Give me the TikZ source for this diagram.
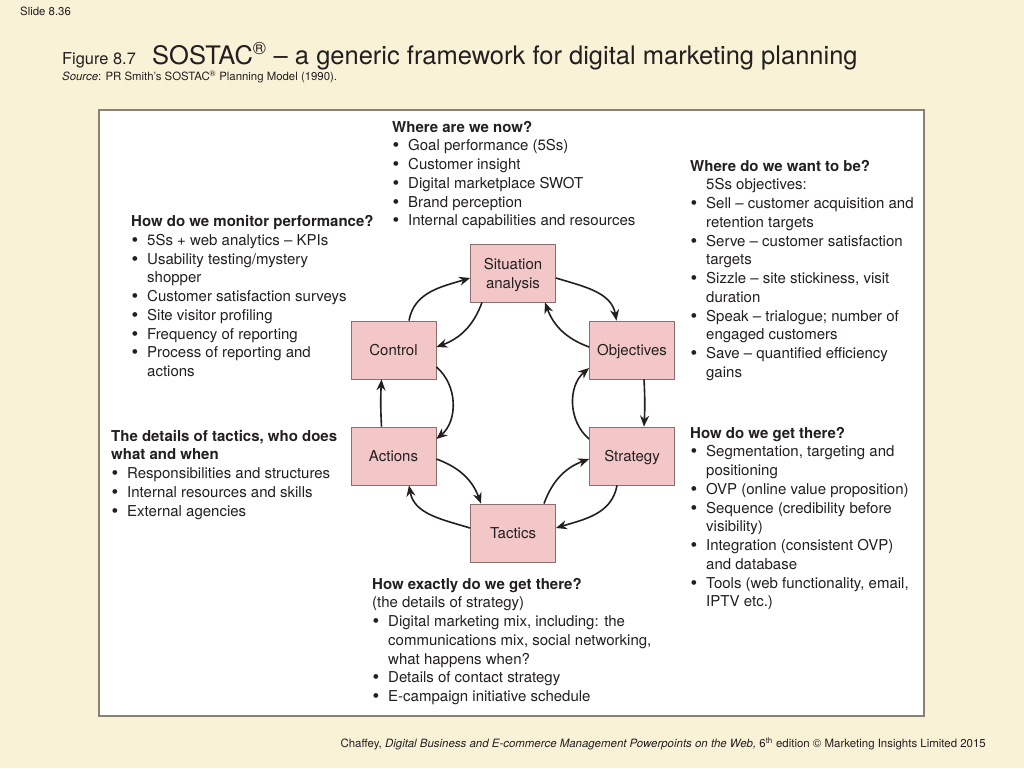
\documentclass[tikz,border=0pt]{standalone}
\usepackage{fontspec}
\setmainfont{TeX Gyre Heros}
\usetikzlibrary{arrows.meta}
\definecolor{bg}{RGB}{249,242,215}
\definecolor{pinkfill}{RGB}{243,199,200}
\definecolor{boxline}{RGB}{140,110,110}
\definecolor{panelline}{RGB}{138,131,113}
\definecolor{ink}{RGB}{35,31,32}
\newcommand\bu{\makebox[16pt][l]{\hspace{0.5pt}\raisebox{-1pt}{\fontsize{19}{18}\selectfont\textbullet}}}
\newcommand\ct{\hspace*{16pt}}
\tikzset{
  txt/.style={inner sep=0pt, anchor=base west, text=ink, font=\fontsize{15}{18.75}\selectfont},
  stepbox/.style={draw=boxline, fill=pinkfill, minimum width=85pt, minimum height=58pt, inner sep=0pt,
    align=center, font=\fontsize{15}{19}\selectfont, text=ink, line width=0.8pt, text depth=0pt},
  arr/.style={-{Stealth[length=11pt,width=9pt]}, line width=1.6pt, draw=ink},
  small/.style={inner sep=0pt, text=ink}
}
\begin{document}
\begin{tikzpicture}[x=1pt,y=-1pt]
\fill[bg] (0,0) rectangle (1024,768);
\draw[panelline, line width=1.2pt, fill=white] (99,110) rectangle (924,716);

% header
\node[small, anchor=base west, font=\fontsize{11.4}{13}\selectfont] (slide) at (20,16) {Slide 8.36};
\node[small, anchor=base west, font=\fontsize{16.4}{18}\selectfont] (fig) at (62,64) {Figure 8.7};
\node[small, anchor=base west, font=\fontsize{25.5}{28}\selectfont] (title) at (152,64) {SOSTAC\textsuperscript{®} – a generic framework for digital marketing planning};
\node[small, anchor=base west, font=\fontsize{11.4}{13}\selectfont] (src) at (62,80.5) {\textit{Source}: PR Smith's SOSTAC\textsuperscript{®} Planning Model (1990).};
\node[small, anchor=base east, font=\fontsize{11.45}{13}\selectfont] (foot) at (986,747) {Chaffey, \textit{Digital Business and E-commerce Management Powerpoints on the Web,} 6\textsuperscript{th} edition © Marketing Insights Limited 2015};

% boxes
\node[stepbox] (sit) at (513,273) {Situation\\analysis};
\node[stepbox] (ctrl) at (393.5,350) {Control};
\node[stepbox] (obj) at (632,350) {Objectives};
\node[stepbox] (act) at (393.5,456) {Actions};
\node[stepbox] (str) at (632,456) {Strategy};
\node[stepbox] (tac) at (513,533) {Tactics};

% connectors
\draw[arr] ([xshift=15.5pt]ctrl.north) to[out=80,in=197] ([yshift=-5pt]sit.west);
\draw[arr] ([xshift=-31pt]sit.south) to[out=-110,in=20] ([yshift=3pt]ctrl.east);
\draw[arr] ([yshift=-5pt]sit.east) to[out=-17,in=100] ([xshift=-15.5pt]obj.north);
\draw[arr] ([yshift=3pt]obj.west) to[out=160,in=-70] ([xshift=32pt]sit.south);
\draw[arr] ([xshift=12pt]obj.south) to[bend left=3] ([xshift=12pt]str.north);
\draw[arr] ([yshift=17pt]str.west) to[out=140,in=220] ([yshift=-18pt]obj.west);
\draw[arr] ([xshift=-12pt]act.north) to[bend left=3] ([xshift=-12pt]ctrl.south);
\draw[arr] ([yshift=-17pt]ctrl.east) to[out=-40,in=40] ([yshift=17pt]act.east);
\draw[arr] ([xshift=-15pt]str.south) to[out=-100,in=17] ([yshift=5pt]tac.east);
\draw[arr] ([xshift=31pt]tac.north) to[out=70,in=200] ([yshift=-3pt]str.west);
\draw[arr] ([yshift=5pt]tac.west) to[out=163,in=-80] ([xshift=15.5pt]act.south);
\draw[arr] ([yshift=-3pt]act.east) to[out=-20,in=110] ([xshift=-32pt]tac.north);

% text blocks
\node[txt] (now) at (392,132) {\begin{tabular}[t]{@{}l@{}}
\textbf{Where are we now?}\\
\bu Goal performance (5Ss)\\
\bu Customer insight\\
\bu Digital marketplace SWOT\\
\bu Brand perception\\
\bu Internal capabilities and resources
\end{tabular}};

\node[txt] (monitor) at (131,226.5) {\begin{tabular}[t]{@{}l@{}}
\textbf{How do we monitor performance?}\\
\bu 5Ss + web analytics – KPIs\\
\bu Usability testing/mystery\\
\ct shopper\\
\bu Customer satisfaction surveys\\
\bu Site visitor profiling\\
\bu Frequency of reporting\\
\bu Process of reporting and\\
\ct actions
\end{tabular}};

\node[txt] (want) at (690,171) {\begin{tabular}[t]{@{}l@{}}
\textbf{Where do we want to be?}\\
\ct 5Ss objectives:\\
\bu Sell – customer acquisition and\\
\ct retention targets\\
\bu Serve – customer satisfaction\\
\ct targets\\
\bu Sizzle – site stickiness, visit\\
\ct duration\\
\bu Speak – trialogue; number of\\
\ct engaged customers\\
\bu Save – quantified efficiency\\
\ct gains
\end{tabular}};

\node[txt] (tactics) at (111,441) {\begin{tabular}[t]{@{}l@{}}
\textbf{The details of tactics, who does}\\
\textbf{what and when}\\
\bu Responsibilities and structures\\
\bu Internal resources and skills\\
\bu External agencies
\end{tabular}};

\node[txt] (getthere) at (690,438) {\begin{tabular}[t]{@{}l@{}}
\textbf{How do we get there?}\\
\bu Segmentation, targeting and\\
\ct positioning\\
\bu OVP (online value proposition)\\
\bu Sequence (credibility before\\
\ct visibility)\\
\bu Integration (consistent OVP)\\
\ct and database\\
\bu Tools (web functionality, email,\\
\ct IPTV etc.)
\end{tabular}};

\node[txt] (exactly) at (372,589) {\begin{tabular}[t]{@{}l@{}}
\textbf{How exactly do we get there?}\\
(the details of strategy)\\
\bu Digital marketing mix, including: the\\
\ct communications mix, social networking,\\
\ct what happens when?\\
\bu Details of contact strategy\\
\bu E-campaign initiative schedule
\end{tabular}};
\end{tikzpicture}
\end{document}
